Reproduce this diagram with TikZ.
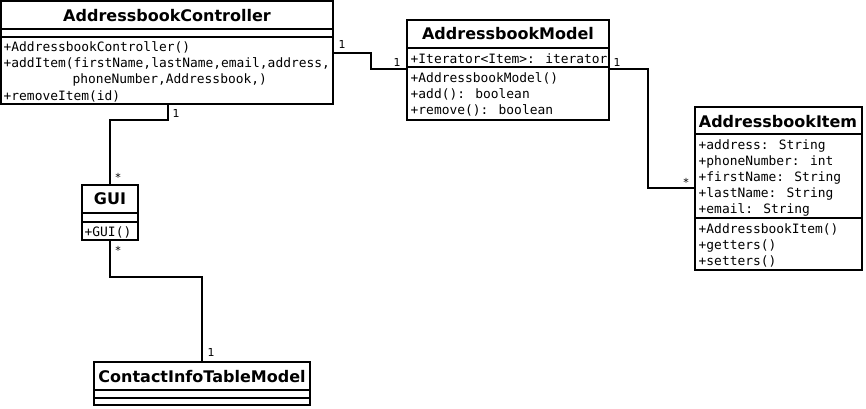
\documentclass[tikz,border=0pt]{standalone}
\usepackage{fontspec}
\setmainfont{DejaVu Sans}
\newfontfamily\monof{DejaVu Sans Mono}
\usetikzlibrary{calc}
\begin{document}
\begin{tikzpicture}[x=1pt,y=-1pt,
  classbox/.style={draw,line width=2pt,outer sep=0pt,inner sep=0pt,anchor=north west,fill=white},
  sep/.style={line width=2pt},
  title/.style={font=\bfseries\fontsize{16}{18}\selectfont,inner sep=0pt,yshift=-1pt},
  mem/.style={font=\monof\fontsize{12.9}{15}\selectfont,inner sep=0pt,anchor=west,yshift=-1.5pt,xshift=0.5pt},
  conn/.style={line width=2pt},
  mult/.style={font=\fontsize{11}{13}\selectfont,inner sep=0pt}]
\fill[white] (0,0) rectangle (866,408);
\useasboundingbox (0,0) rectangle (866,408);

% AddressbookController
\node[classbox,minimum width=332pt,minimum height=103pt] (ctrl) at (1,1) {};
\draw[sep] ($(ctrl.north west)+(0,28)$) -- ($(ctrl.north east)+(0,28)$);
\draw[sep] ($(ctrl.north west)+(0,36)$) -- ($(ctrl.north east)+(0,36)$);
\node[title] (ctrlt) at (167,15) {AddressbookController};
\node[mem] (c1) at (3,46) {+AddressbookController()};
\node[mem] (c2) at (3,62) {+addItem(firstName,lastName,email,address,};
\node[mem] (c3) at (72,78) {phoneNumber,Addressbook,)};
\node[mem] (c4) at (3,95) {+removeItem(id)};

% AddressbookModel
\node[classbox,minimum width=202pt,minimum height=100pt] (model) at (407,20) {};
\draw[sep] ($(model.north west)+(0,28)$) -- ($(model.north east)+(0,28)$);
\draw[sep] ($(model.north west)+(0,47)$) -- ($(model.north east)+(0,47)$);
\node[title] (modelt) at (508,33) {AddressbookModel};
\node[mem] (m1) at (410,57) {+Iterator<Item>: iterator};
\node[mem] (m2) at (410,77) {+AddressbookModel()};
\node[mem] (m3) at (410,93) {+add(): boolean};
\node[mem] (m4) at (410,109) {+remove(): boolean};

% AddressbookItem
\node[classbox,minimum width=167pt,minimum height=163pt] (item) at (695,107) {};
\draw[sep] ($(item.north west)+(0,27)$) -- ($(item.north east)+(0,27)$);
\draw[sep] ($(item.north west)+(0,111)$) -- ($(item.north east)+(0,111)$);
\node[title] (itemt) at (778,121) {AddressbookItem};
\node[mem] (i1) at (698,144) {+address: String};
\node[mem] (i2) at (698,160) {+phoneNumber: int};
\node[mem] (i3) at (698,176) {+firstName: String};
\node[mem] (i4) at (698,192) {+lastName: String};
\node[mem] (i5) at (698,208) {+email: String};
\node[mem] (i6) at (698,228) {+AddressbookItem()};
\node[mem] (i7) at (698,244) {+getters()};
\node[mem] (i8) at (698,260) {+setters()};

% GUI
\node[classbox,minimum width=56pt,minimum height=55pt] (gui) at (82,185) {};
\draw[sep] ($(gui.north west)+(0,28)$) -- ($(gui.north east)+(0,28)$);
\draw[sep] ($(gui.north west)+(0,37)$) -- ($(gui.north east)+(0,37)$);
\node[title] (guit) at (110,198) {GUI};
\node[mem] (g1) at (84,231) {+GUI()};

% ContactInfoTableModel
\node[classbox,minimum width=216pt,minimum height=43pt] (citm) at (94,362) {};
\draw[sep] ($(citm.north west)+(0,28)$) -- ($(citm.north east)+(0,28)$);
\draw[sep] ($(citm.north west)+(0,36)$) -- ($(citm.north east)+(0,36)$);
\node[title] (citmt) at (202,376) {ContactInfoTableModel};

% connectors
\draw[conn] ($(ctrl.north east)+(0,52)$) -- ++(38,0) |- ($(model.north west)+(0,49)$);
\draw[conn] ($(model.north east)+(0,49)$) -- ++(39,0) |- ($(item.north west)+(0,81)$);
\draw[conn] ($(ctrl.south west)+(167,0)$) -- ++(0,16) -| (gui.north);
\draw[conn] (gui.south) -- ++(0,37) -| (citm.north);

% multiplicities
\node[mult] (l1) at (342,44) {1};
\node[mult] (l2) at (397,62) {1};
\node[mult] (l3) at (617,62) {1};
\node[mult] (l4) at (686,182) {*};
\node[mult] (l5) at (176,113) {1};
\node[mult] (l6) at (118,177) {*};
\node[mult] (l7) at (118,250) {*};
\node[mult] (l8) at (211,352) {1};
\end{tikzpicture}
\end{document}
